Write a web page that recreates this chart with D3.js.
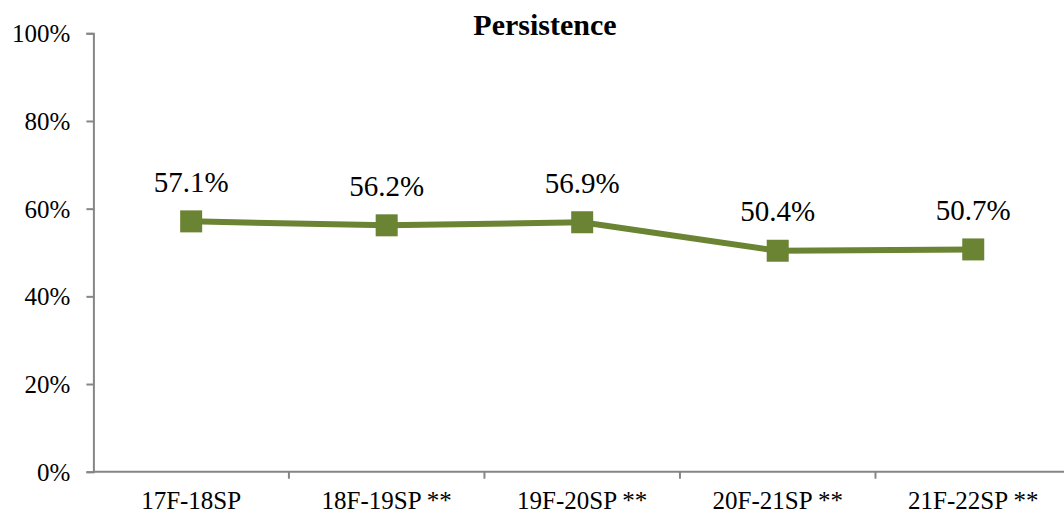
<!DOCTYPE html>
<html>
<head>
<meta charset="utf-8">
<script src="https://cdn.jsdelivr.net/npm/d3@7"></script>
<style>
  body { margin: 0; background: #fff; }
</style>
</head>
<body>
<div id="chart"></div>
<script>
var categories = ["17F-18SP", "18F-19SP **", "19F-20SP **", "20F-21SP **", "21F-22SP **"];
var persistence = [57.1, 56.2, 56.9, 50.4, 50.7];
var yTicks = [0, 20, 40, 60, 80, 100];
var title = "Persistence";

var serif = "'Liberation Serif', 'Times New Roman', Times, serif";
var width = 1064, height = 514;
var margin = { top: 33.3, right: -7, bottom: 42.3, left: 93.4 };
var innerW = width - margin.left - margin.right,
  innerH = height - margin.top - margin.bottom;

var svg = d3.select("#chart").append("svg")
  .attr("width", width)
  .attr("height", height);

var g = svg.append("g")
  .attr("transform", "translate(" + margin.left + "," + margin.top + ")");

var x = d3.scaleBand()
  .domain(categories)
  .range([0, innerW]);

var y = d3.scaleLinear()
  .domain([0, 100])
  .range([innerH, 0]);

var axisColor = "#868686";

// y axis
var yAxis = d3.axisLeft(y)
  .tickValues(yTicks)
  .tickSize(7)
  .tickPadding(16)
  .tickFormat(function(d) { return d + "%"; });

var gy = g.append("g").call(yAxis).attr("font-family", serif);
gy.select(".domain").attr("stroke", axisColor).attr("stroke-width", 2);
gy.selectAll(".tick line").attr("stroke", axisColor).attr("stroke-width", 2);
gy.selectAll(".tick text")
  .style("font-family", serif)
  .style("font-size", "25px")
  .attr("fill", "#000")
  .attr("dy", "0.34em");

// x axis: ticks at category boundaries
g.append("line")
  .attr("x1", 0).attr("x2", innerW)
  .attr("y1", innerH).attr("y2", innerH)
  .attr("stroke", axisColor).attr("stroke-width", 2);

var boundaries = categories.map(function(c) { return x(c); }).concat([innerW]);
g.selectAll(".xtick")
  .data(boundaries.slice(1))
  .enter().append("line")
  .attr("x1", function(d) { return d; })
  .attr("x2", function(d) { return d; })
  .attr("y1", innerH).attr("y2", innerH + 7)
  .attr("stroke", axisColor).attr("stroke-width", 2);

g.selectAll(".xlabel")
  .data(categories)
  .enter().append("text")
  .attr("x", function(d) { return x(d) + x.bandwidth() / 2; })
  .attr("y", innerH + 37.5)
  .attr("text-anchor", "middle")
  .style("font-family", serif)
  .style("font-size", "25px")
  .text(function(d) { return d; });

// line
var green = "#6a8434";
var line = d3.line()
  .x(function(d, i) { return x(categories[i]) + x.bandwidth() / 2; })
  .y(function(d) { return y(d); });

g.append("path")
  .datum(persistence)
  .attr("fill", "none")
  .attr("stroke", green)
  .attr("stroke-width", 6)
  .attr("d", line);

var ms = 22;
g.selectAll(".marker")
  .data(persistence)
  .enter().append("rect")
  .attr("x", function(d, i) { return x(categories[i]) + x.bandwidth() / 2 - ms / 2; })
  .attr("y", function(d) { return y(d) - ms / 2; })
  .attr("width", ms)
  .attr("height", ms)
  .attr("fill", green);

g.selectAll(".dlabel")
  .data(persistence)
  .enter().append("text")
  .attr("x", function(d, i) { return x(categories[i]) + x.bandwidth() / 2; })
  .attr("y", function(d) { return y(d) - 29.7; })
  .attr("text-anchor", "middle")
  .style("font-family", serif)
  .style("font-size", "29px")
  .text(function(d) { return d.toFixed(1) + "%"; });

// title
svg.append("text")
  .attr("x", 545)
  .attr("y", 35)
  .attr("text-anchor", "middle")
  .style("font-family", serif)
  .style("font-size", "30px")
  .style("font-weight", "bold")
  .text(title);
</script>
</body>
</html>
